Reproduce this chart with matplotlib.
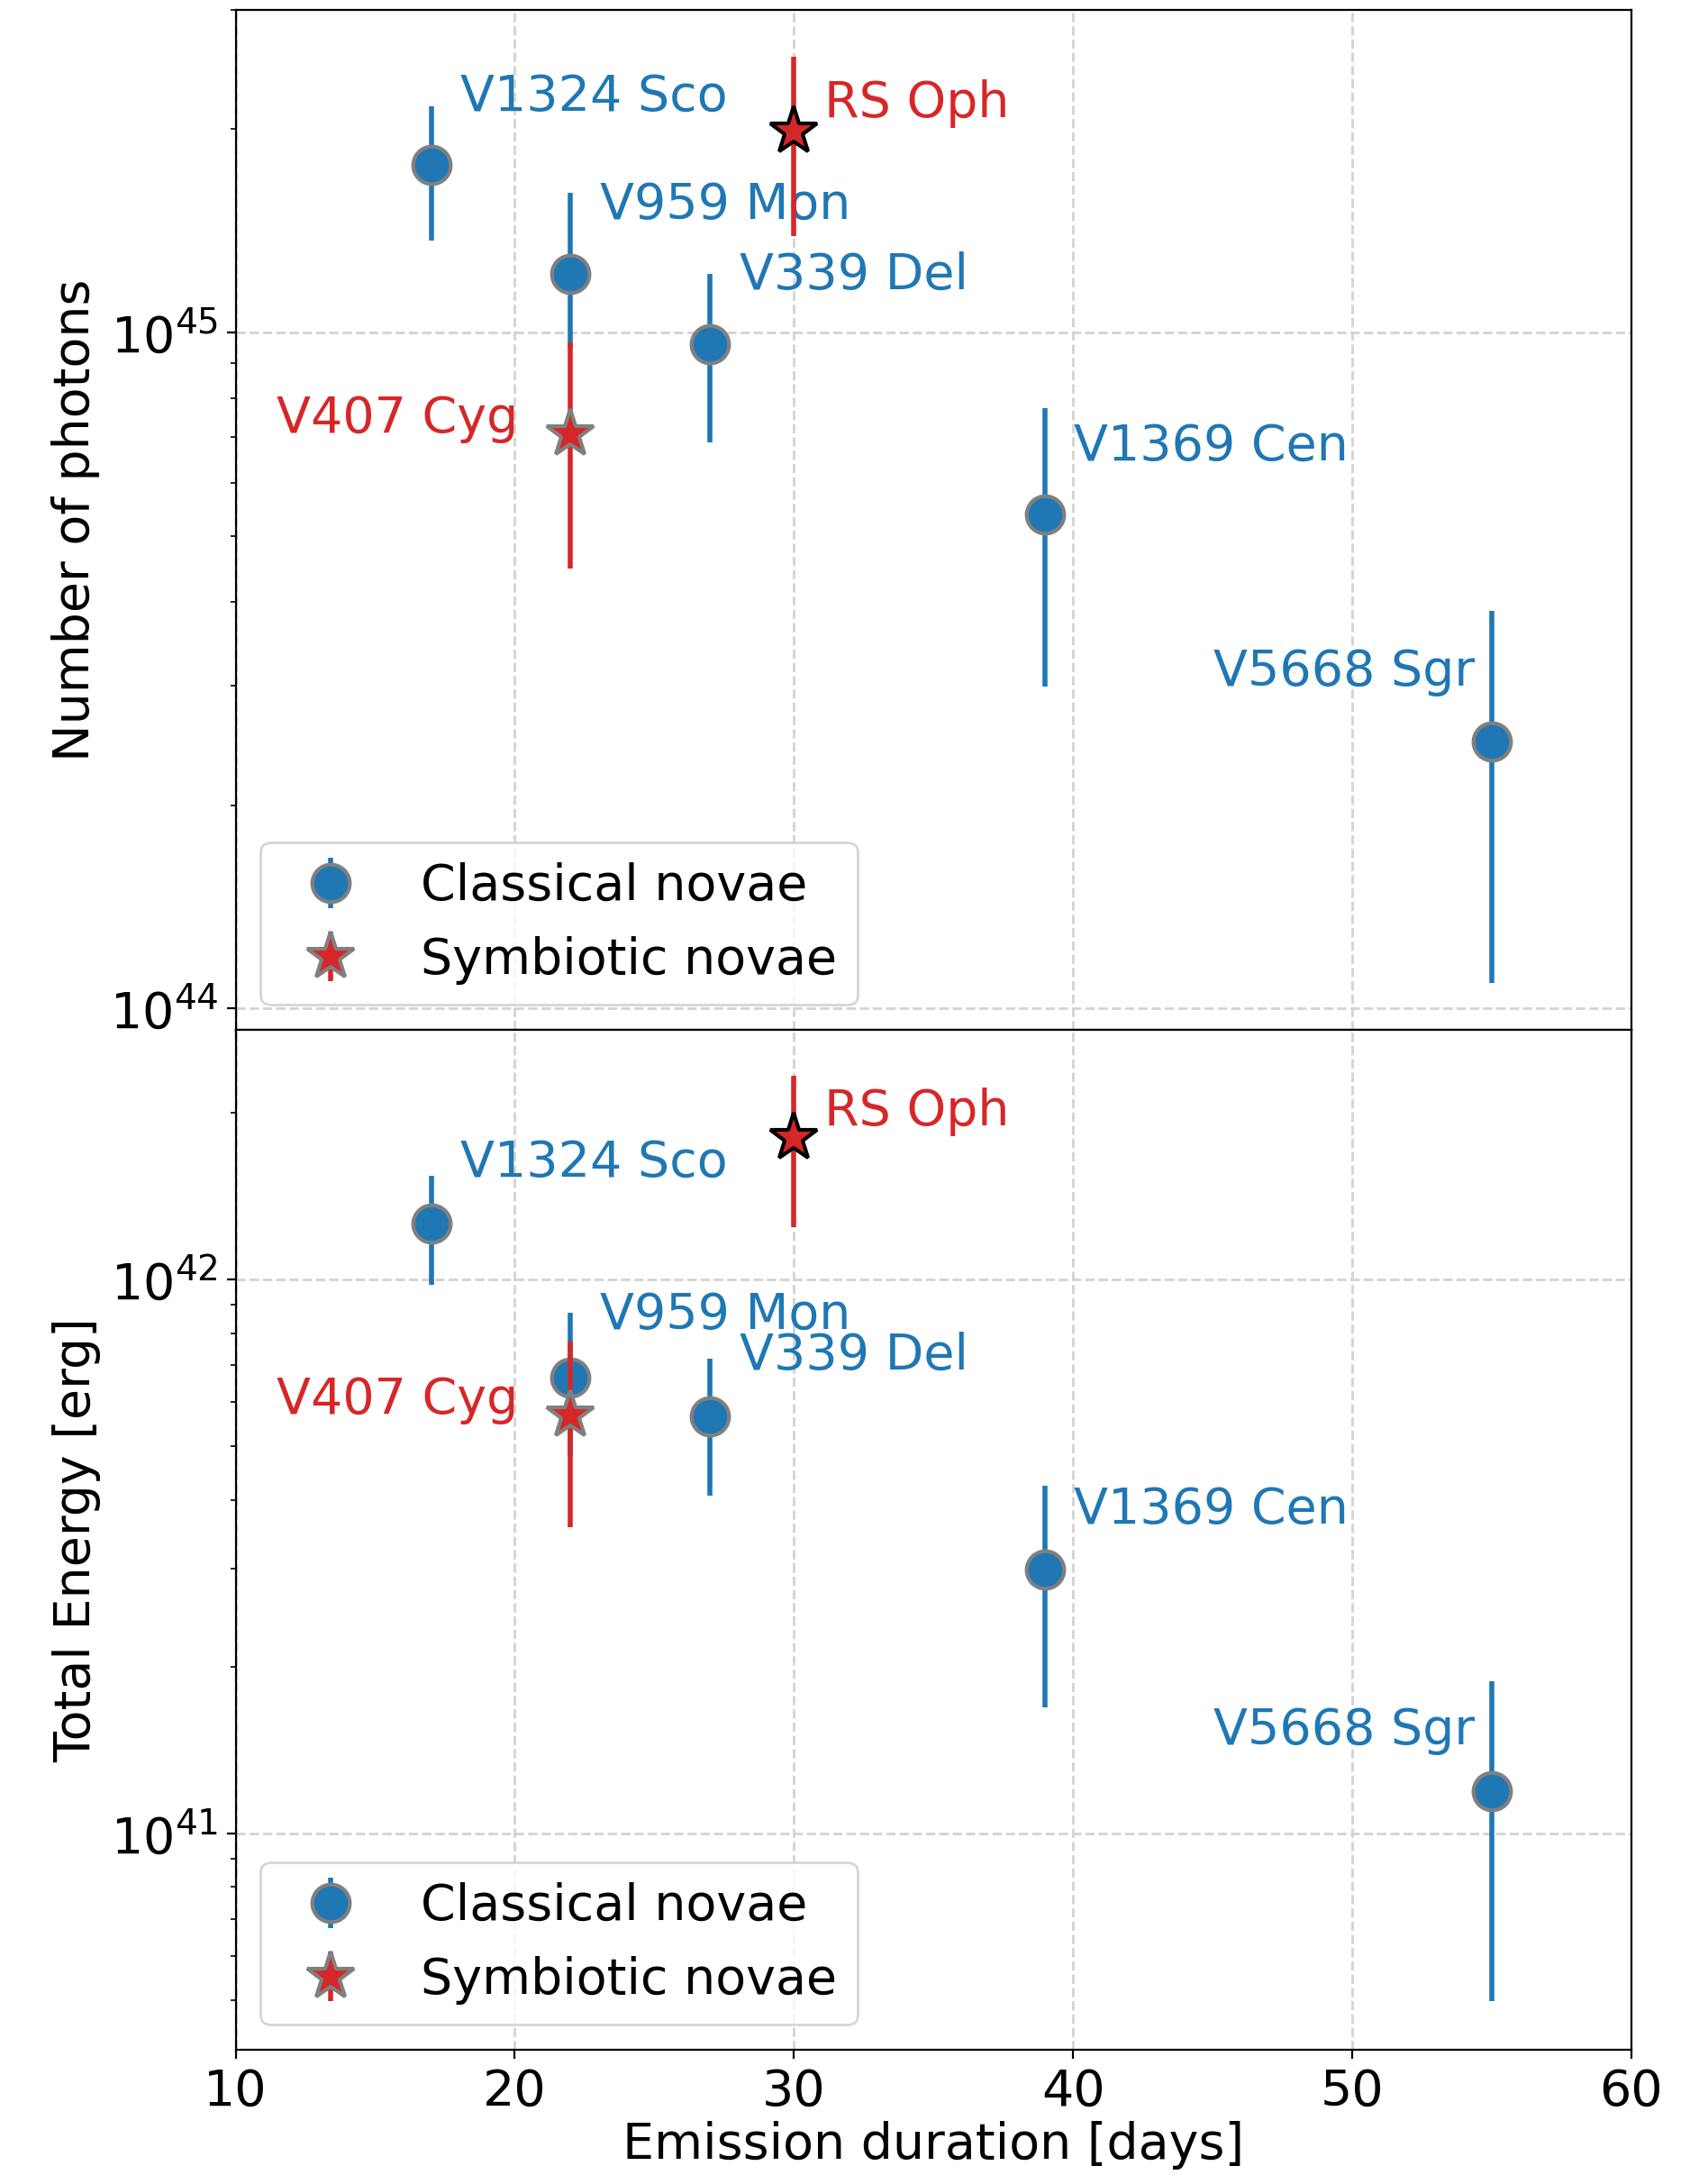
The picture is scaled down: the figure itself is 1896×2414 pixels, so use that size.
import numpy as np
import matplotlib
matplotlib.use("Agg")
import matplotlib.pyplot as plt

# Classical novae: emission duration [days], photons, energy with asymmetric errors
classical_names = ["V1324 Sco", "V959 Mon", "V339 Del", "V1369 Cen", "V5668 Sgr"]
classical_days = [17, 22, 27, 39, 55]
classical_photons = [1.77e45, 1.22e45, 9.6e44, 5.38e44, 2.48e44]
classical_photons_hi = [2.16e45, 1.61e45, 1.22e45, 7.74e44, 3.88e44]
classical_photons_lo = [1.37e45, 9.5e44, 6.88e44, 2.99e44, 1.09e44]
classical_energy = [1.26e42, 6.65e41, 5.65e41, 2.99e41, 1.19e41]
classical_energy_hi = [1.54e42, 8.71e41, 7.2e41, 4.24e41, 1.88e41]
classical_energy_lo = [9.77e41, 4.8e41, 4.07e41, 1.69e41, 4.98e40]

# Symbiotic novae
symbiotic_names = ["RS Oph", "V407 Cyg"]
symbiotic_days = [30, 22]
symbiotic_photons = [1.98e45, 7.08e44]
symbiotic_photons_hi = [2.56e45, 9.68e44]
symbiotic_photons_lo = [1.39e45, 4.48e44]
symbiotic_energy = [1.8e42, 5.69e41]
symbiotic_energy_hi = [2.33e42, 7.72e41]
symbiotic_energy_lo = [1.24e42, 3.57e41]

BLUE = "#1f77b4"
RED = "#d62728"

plt.rcParams["font.size"] = 20

fig, (ax1, ax2) = plt.subplots(2, 1, figsize=(9.48, 12.07), dpi=200, sharex=True)
fig.subplots_adjust(left=0.138, right=0.955, top=0.9954, bottom=0.0576, hspace=0)


def draw_panel(ax, c_val, c_hi, c_lo, s_val, s_hi, s_lo, name_off):
    c_val = np.array(c_val)
    c_err = [c_val - np.array(c_lo), np.array(c_hi) - c_val]
    ax.errorbar(classical_days, c_val, yerr=c_err, fmt="o", color=BLUE,
                ms=15, mec="gray", mew=1.5, elinewidth=2, capsize=0,
                label="Classical novae", zorder=3)

    s_val = np.array(s_val)
    s_err = [s_val - np.array(s_lo), np.array(s_hi) - s_val]
    edges = ["black", "gray"]
    for i in range(len(s_val)):
        ax.errorbar(symbiotic_days[i], s_val[i],
                    yerr=[[s_err[0][i]], [s_err[1][i]]], fmt="*", color=RED,
                    ms=20, mec=edges[i], mew=1.5, elinewidth=2, capsize=0,
                    label="Symbiotic novae" if i == 1 else None, zorder=4)

    # names next to each point
    for name, x, y in zip(classical_names, classical_days, c_val):
        dx, dy, ha = name_off[name]
        ax.annotate(name, (x, y), xytext=(dx, dy), textcoords="offset points",
                    ha=ha, va="center", color=BLUE, fontsize=20)
    for name, x, y in zip(symbiotic_names, symbiotic_days, s_val):
        dx, dy, ha = name_off[name]
        ax.annotate(name, (x, y), xytext=(dx, dy), textcoords="offset points",
                    ha=ha, va="center", color=RED, fontsize=20)

    ax.set_yscale("log")
    ax.grid(True, which="major", linestyle="--", color="lightgray", linewidth=1)
    handles, labels = ax.get_legend_handles_labels()
    ax.legend(handles, labels, loc="lower left", fontsize=20)


top_off = {
    "V1324 Sco": (11.6, 27.0, "left"),
    "V959 Mon": (11.6, 27.7, "left"),
    "V339 Del": (11.6, 27.7, "left"),
    "V1369 Cen": (11.6, 27.2, "left"),
    "V5668 Sgr": (-6.6, 27.7, "right"),
    "RS Oph": (12.2, 11.5, "left"),
    "V407 Cyg": (-21, 6.1, "right"),
}
bot_off = {
    "V1324 Sco": (11.6, 24.4, "left"),
    "V959 Mon": (11.6, 24.9, "left"),
    "V339 Del": (11.6, 24.4, "left"),
    "V1369 Cen": (11.6, 23.8, "left"),
    "V5668 Sgr": (-6.6, 24.4, "right"),
    "RS Oph": (12.2, 10.5, "left"),
    "V407 Cyg": (-21, 6.1, "right"),
}

draw_panel(ax1, classical_photons, classical_photons_hi, classical_photons_lo,
           symbiotic_photons, symbiotic_photons_hi, symbiotic_photons_lo, top_off)
draw_panel(ax2, classical_energy, classical_energy_hi, classical_energy_lo,
           symbiotic_energy, symbiotic_energy_hi, symbiotic_energy_lo, bot_off)

ax1.set_ylim(9.3e43, 3.0e45)
ax2.set_ylim(4.07e40, 2.82e42)
ax2.set_xlim(10, 60)

ax1.set_ylabel("Number of photons")
ax2.set_ylabel("Total Energy [erg]")
ax2.set_xlabel("Emission duration [days]", labelpad=2)

fig.savefig("out.png", dpi=200)
